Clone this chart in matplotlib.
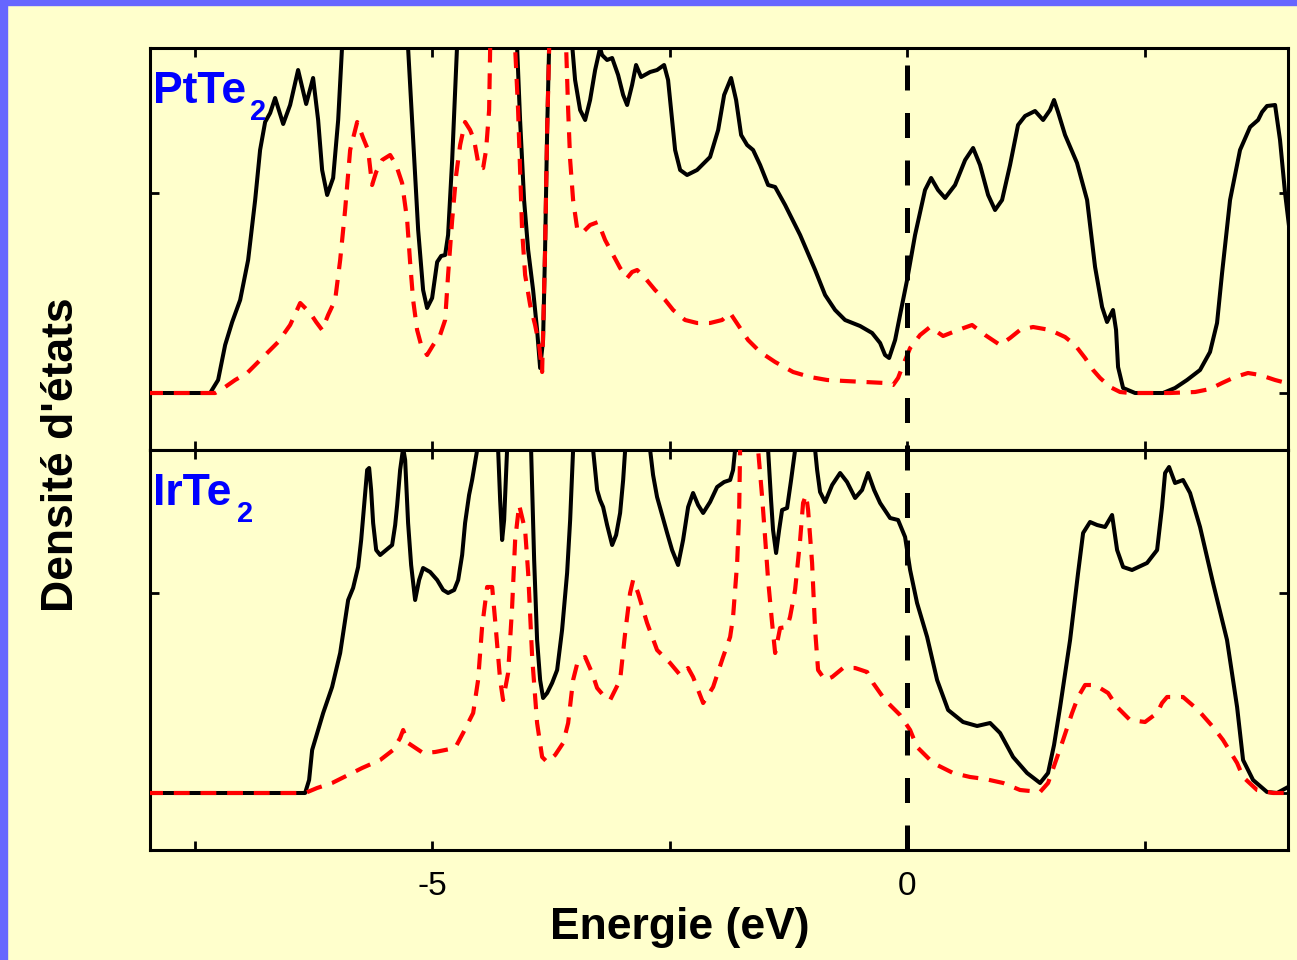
import matplotlib
matplotlib.use('Agg')
import matplotlib.pyplot as plt
from matplotlib.patches import Rectangle

plt.rcParams['font.family'] = ['Liberation Sans', 'DejaVu Sans']

# ---- data (energy in eV, DOS in arbitrary units; values > 345 run off the top) ----
# PtTe2 total DOS
pt_tot_E = [-8.0, -7.337, -7.253, -7.179, -7.105, -7.021, -6.937, -6.863, -6.811, -6.758,
            -6.705, -6.653, -6.568, -6.495, -6.411, -6.326, -6.253, -6.200, -6.158, -6.105,
            -6.042, -5.989, -5.947, -5.75, -5.35, -5.253, -5.211, -5.147, -5.095, -5.053,
            -5.000, -4.947, -4.905, -4.863, -4.832, -4.789, -4.758, -4.737, -4.6, -4.18,
            -4.105, -4.074, -4.032, -3.989, -3.937, -3.895, -3.863, -3.832, -3.811, -3.789,
            -3.768, -3.72, -3.55, -3.526, -3.495, -3.442, -3.389, -3.337, -3.284, -3.232,
            -3.211, -3.158, -3.105, -3.042, -2.989, -2.947, -2.895, -2.853, -2.800, -2.705,
            -2.632, -2.558, -2.516, -2.484, -2.442, -2.389, -2.316, -2.211, -2.074, -1.989,
            -1.926, -1.853, -1.800, -1.747, -1.684, -1.621, -1.547, -1.463, -1.389, -1.284,
            -1.126, -0.968, -0.863, -0.758, -0.653, -0.495, -0.368, -0.284, -0.232, -0.189,
            -0.126, -0.074, 0.000, 0.084, 0.189, 0.253, 0.326, 0.400, 0.505, 0.611,
            0.695, 0.768, 0.853, 0.926, 1.000, 1.084, 1.168, 1.242, 1.347, 1.432,
            1.505, 1.547, 1.589, 1.663, 1.789, 1.895, 1.979, 2.053, 2.105, 2.168,
            2.200, 2.221, 2.274, 2.400, 2.695, 2.821, 2.947, 3.084, 3.189, 3.263,
            3.316, 3.400, 3.505, 3.611, 3.695, 3.737, 3.789, 3.874, 3.926, 3.979, 4.032]
pt_tot = [0, 0, 13, 48, 71, 93, 133, 193, 243, 271,
          280, 295, 269, 288, 323, 289, 315, 273, 223, 198,
          215, 273, 348, 480, 480, 345, 273, 163, 103, 85,
          95, 131, 137, 138, 158, 233, 303, 348, 480, 480,
          345, 273, 193, 143, 103, 63, 25, 53, 143, 263,
          348, 480, 480, 348, 313, 283, 273, 293, 323, 345,
          338, 333, 335, 318, 298, 288, 308, 328, 316, 321,
          323, 328, 313, 283, 243, 223, 218, 223, 236, 263,
          298, 315, 293, 258, 248, 243, 228, 208, 206, 188,
          158, 123, 98, 83, 73, 67, 60, 50, 38, 35,
          53, 78, 113, 158, 203, 215, 203, 195, 208, 233,
          245, 228, 198, 183, 193, 228, 268, 277, 282, 273,
          283, 293, 281, 258, 230, 193, 126, 86, 71, 83,
          63, 26, 5, 0, 0, 5, 13, 23, 41, 70,
          120, 193, 243, 266, 273, 281, 287, 288, 253, 200, 158]

# PtTe2 partial DOS
pt_par_E = [-8.0, -7.284, -7.179, -7.074, -6.947, -6.789, -6.621, -6.495, -6.389, -6.284,
            -6.221, -6.158, -6.095, -6.021, -5.968, -5.916, -5.863, -5.789, -5.726, -5.674,
            -5.632, -5.589, -5.526, -5.442, -5.379, -5.316, -5.263, -5.232, -5.200, -5.158,
            -5.116, -5.053, -4.989, -4.916, -4.863, -4.832, -4.789, -4.747, -4.705, -4.653,
            -4.600, -4.558, -4.505, -4.463, -4.432, -4.400, -4.389, -4.3, -4.2, -4.126,
            -4.095, -4.074, -4.053, -4.021, -3.968, -3.916, -3.874, -3.842, -3.811, -3.789,
            -3.768, -3.7, -3.65, -3.589, -3.568, -3.547, -3.516, -3.474, -3.421, -3.337,
            -3.253, -3.179, -3.095, -3.021, -2.947, -2.895, -2.842, -2.758, -2.653, -2.547,
            -2.463, -2.337, -2.211, -2.074, -1.947, -1.863, -1.779, -1.674, -1.547, -1.389,
            -1.200, -1.021, -0.842, -0.653, -0.442, -0.232, -0.147, -0.095, -0.042, 0.032,
            0.137, 0.242, 0.379, 0.537, 0.684, 0.821, 0.979, 1.084, 1.189, 1.326,
            1.505, 1.663, 1.768, 1.874, 1.958, 2.032, 2.137, 2.242, 2.347, 2.768,
            3.032, 3.189, 3.316, 3.453, 3.589, 3.716, 3.874, 4.032]
pt_par = [0, 0, 6, 13, 20, 35, 51, 68, 90, 80,
          71, 63, 78, 93, 133, 183, 243, 271, 255, 243,
          208, 221, 233, 238, 228, 210, 173, 131, 93, 63,
          48, 38, 48, 58, 73, 118, 173, 218, 248, 271,
          263, 253, 225, 225, 243, 283, 345, 480, 480, 345,
          283, 223, 163, 118, 88, 68, 48, 21, 143, 263,
          345, 480, 480, 345, 283, 233, 193, 165, 160, 168,
          171, 153, 138, 125, 115, 121, 123, 115, 103, 93,
          83, 73, 70, 70, 73, 80, 68, 53, 41, 31,
          21, 16, 13, 12, 11, 10, 8, 15, 28, 45,
          58, 66, 57, 63, 68, 58, 48, 55, 63, 66,
          63, 56, 48, 35, 23, 15, 6, 1, 0, 0,
          1, 4, 10, 16, 20, 18, 13, 9]

# IrTe2 total DOS
ir_tot_E = [-8.0, -6.337, -6.295, -6.263, -6.200, -6.147, -6.053, -5.968, -5.916, -5.884,
            -5.832, -5.779, -5.747, -5.716, -5.684, -5.663, -5.642, -5.621, -5.589, -5.547,
            -5.484, -5.421, -5.389, -5.368, -5.337, -5.305, -5.284, -5.253, -5.221, -5.179,
            -5.137, -5.095, -5.021, -4.947, -4.884, -4.832, -4.768, -4.726, -4.684, -4.653,
            -4.611, -4.579, -4.526, -4.45, -4.35, -4.305, -4.284, -4.263, -4.242, -4.211,
            -4.17, -4.0, -3.958, -3.926, -3.895, -3.863, -3.832, -3.789, -3.737, -3.684,
            -3.632, -3.579, -3.547, -3.516, -3.47, -3.35, -3.305, -3.284, -3.263, -3.232,
            -3.200, -3.158, -3.105, -3.063, -3.021, -2.989, -2.968, -2.9, -2.75, -2.705,
            -2.674, -2.632, -2.579, -2.526, -2.474, -2.411, -2.358, -2.305, -2.253, -2.200,
            -2.147, -2.074, -2.000, -1.926, -1.863, -1.832, -1.811, -1.75, -1.5, -1.463,
            -1.432, -1.411, -1.379, -1.347, -1.316, -1.263, -1.221, -1.179, -1.12, -0.98,
            -0.968, -0.947, -0.916, -0.863, -0.789, -0.705, -0.632, -0.547, -0.474, -0.411,
            -0.347, -0.284, -0.179, -0.095, -0.021, 0.032, 0.105, 0.211, 0.316, 0.432,
            0.589, 0.737, 0.874, 0.979, 1.116, 1.263, 1.400, 1.484, 1.547, 1.611,
            1.716, 1.800, 1.853, 1.926, 2.000, 2.084, 2.158, 2.211, 2.274, 2.368,
            2.526, 2.632, 2.684, 2.716, 2.758, 2.821, 2.905, 2.979, 3.084, 3.221,
            3.368, 3.474, 3.537, 3.642, 3.789, 3.895, 4.011]
ir_tot = [0, 0, 13, 43, 63, 80, 106, 140, 173, 193,
          205, 226, 253, 288, 323, 325, 303, 270, 243, 238,
          243, 248, 268, 288, 323, 345, 333, 270, 228, 193,
          213, 225, 221, 213, 203, 200, 203, 213, 238, 270,
          298, 313, 343, 480, 480, 343, 293, 253, 273, 343,
          480, 480, 343, 233, 153, 113, 95, 100, 110, 123,
          163, 220, 273, 343, 480, 480, 343, 323, 303, 293,
          286, 268, 248, 258, 280, 313, 343, 480, 480, 343,
          318, 296, 278, 260, 243, 228, 253, 286, 300, 288,
          280, 291, 306, 311, 313, 323, 343, 480, 480, 343,
          293, 263, 240, 263, 283, 285, 313, 343, 480, 480,
          343, 323, 301, 291, 308, 320, 311, 295, 303, 320,
          303, 290, 275, 273, 256, 223, 190, 156, 113, 83,
          71, 67, 70, 60, 36, 20, 10, 20, 48, 86,
          153, 220, 260, 271, 268, 266, 278, 243, 226, 223,
          230, 243, 286, 320, 326, 310, 313, 300, 266, 210,
          153, 86, 33, 13, 1, 0, 6]

# IrTe2 partial DOS
ir_par_E = [-8.0, -6.337, -6.211, -6.053, -5.842, -5.737, -5.547, -5.411, -5.337, -5.305,
            -5.253, -5.095, -4.968, -4.758, -4.674, -4.568, -4.516, -4.474, -4.421, -4.368,
            -4.337, -4.284, -4.253, -4.200, -4.158, -4.126, -4.084, -4.021, -3.989, -3.947,
            -3.895, -3.842, -3.789, -3.705, -3.621, -3.568, -3.516, -3.463, -3.389, -3.316,
            -3.263, -3.200, -3.126, -3.021, -2.968, -2.916, -2.884, -2.832, -2.737, -2.632,
            -2.495, -2.389, -2.305, -2.253, -2.147, -2.042, -1.937, -1.863, -1.832, -1.789,
            -1.768, -1.758, -1.71, -1.6, -1.568, -1.526, -1.495, -1.463, -1.421, -1.389,
            -1.337, -1.263, -1.232, -1.179, -1.126, -1.095, -1.063, -1.042, -1.000, -0.968,
            -0.937, -0.863, -0.789, -0.674, -0.547, -0.421, -0.358, -0.232, -0.074, 0.032,
            0.105, 0.274, 0.484, 0.663, 0.821, 1.011, 1.189, 1.400, 1.484, 1.558,
            1.642, 1.737, 1.800, 1.874, 1.979, 2.116, 2.211, 2.347, 2.505, 2.632,
            2.684, 2.737, 2.905, 3.063, 3.221, 3.326, 3.474, 3.537, 3.684, 3.853, 4.032]
ir_par = [0, 0, 5, 10, 20, 25, 33, 43, 55, 63,
          50, 40, 41, 45, 60, 80, 113, 166, 206, 206,
          173, 113, 93, 120, 186, 253, 288, 263, 220, 136,
          70, 36, 31, 38, 50, 70, 113, 133, 136, 120,
          105, 98, 93, 113, 160, 200, 213, 200, 170, 143,
          130, 118, 125, 116, 90, 106, 136, 156, 176, 230,
          280, 343, 480, 480, 343, 296, 256, 213, 170, 140,
          165, 166, 176, 203, 253, 290, 298, 283, 230, 163,
          123, 113, 116, 125, 125, 121, 110, 93, 78, 63,
          46, 30, 20, 16, 14, 10, 3, 1, 10, 30,
          53, 80, 96, 108, 108, 100, 86, 73, 71, 80,
          90, 96, 96, 83, 66, 53, 30, 16, 3, 0, 0]

x_ticks = [-7.5, -5, -2.5, 0, 2.5]
x_tick_labels = ['', '-5', '', '0', '']
y_ticks = [0, 200]

BG = '#FFFFCC'
W, H = 1297, 960

fig = plt.figure(figsize=(W / 100, H / 100), dpi=100, facecolor=BG)
# blue slide border (left and top)
fig.add_artist(Rectangle((0, 0), 7 / W, 1, transform=fig.transFigure,
                         color='#6666FF', zorder=10))
fig.add_artist(Rectangle((0, 1 - 5 / H), 1, 5 / H, transform=fig.transFigure,
                         color='#6666FF', zorder=10))

ax_top = fig.add_axes([150 / W, 1 - 450 / H, 1138 / W, 402 / H])
ax_bot = fig.add_axes([150 / W, 1 - 850 / H, 1138 / W, 400 / H])

# (axes, total, partial, y top, compound name, x of subscript)
panels = [(ax_top, pt_tot_E, pt_tot, pt_par_E, pt_par, 345, 'PtTe', 0.0875),
          (ax_bot, ir_tot_E, ir_tot, ir_par_E, ir_par, 343, 'IrTe', 0.0765)]

for ax, e_t, d_t, e_p, d_p, ytop, name, xsub in panels:
    ax.set_facecolor(BG)
    ax.plot(e_t, d_t, color='black', lw=2.9, solid_joinstyle='round', zorder=3)
    ax.plot(e_p, d_p, color='red', lw=3.0, dashes=(3.8, 2.6), zorder=4)
    ax.set_xlim(-7.97, 4.01)
    ax.set_ylim(-57, ytop)
    ax.set_xticks(x_ticks)
    ax.set_yticks(y_ticks)
    ax.set_yticklabels([])
    ax.tick_params(direction='in', length=6.5, width=2, top=True, right=True,
                   labelsize=24, pad=15)
    for sp in ax.spines.values():
        sp.set_linewidth(2.2)
    ax.text(0.003, 0.862, name, transform=ax.transAxes, color='#0000FF',
            fontsize=32, fontweight='bold', ha='left', va='baseline')
    ax.text(xsub, 0.82, '2', transform=ax.transAxes, color='#0000FF',
            fontsize=21, fontweight='bold', ha='left', va='baseline')

ax_top.set_xticklabels([])
ax_bot.set_xticklabels(x_tick_labels)

# Fermi level marker spanning both panels
ax_bot.plot([0, 0], [-57, 735], color='black', lw=3.6, dashes=(5, 4.5),
            clip_on=False, zorder=6)

fig.text(680 / W, 1 - 928 / H, 'Energie (eV)', fontsize=32, fontweight='bold',
         ha='center', va='center')
fig.text(62 / W, 1 - 455 / H, "Densité d'états", fontsize=32, fontweight='bold',
         rotation=90, ha='center', va='center')

fig.savefig('out.png', dpi=100, facecolor=BG)
